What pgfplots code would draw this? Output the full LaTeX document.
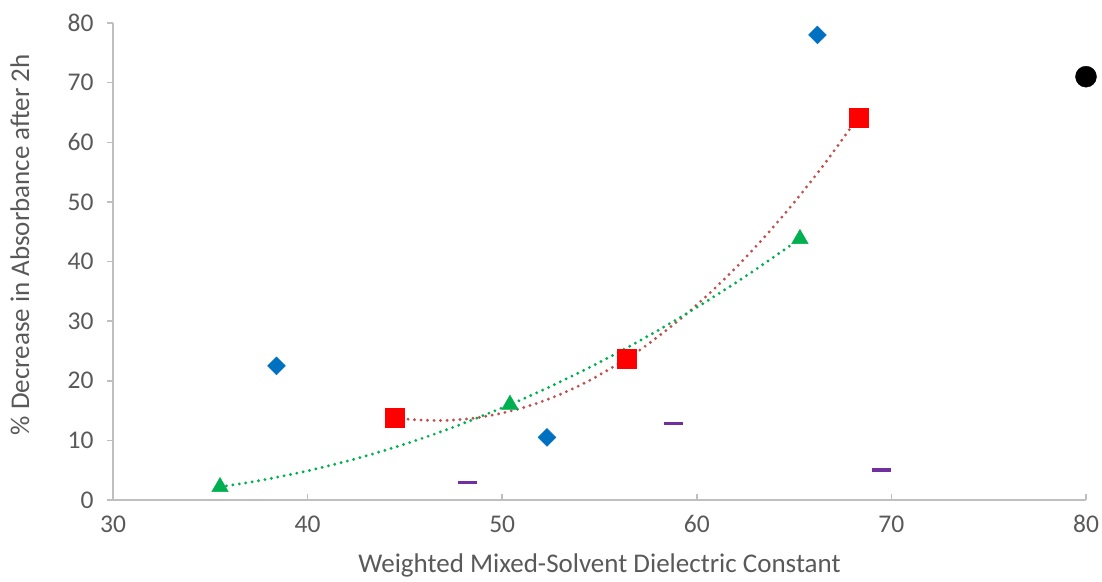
\documentclass[border=0pt]{standalone}
\usepackage{pgfplots}
\pgfplotsset{compat=1.18}
\usepackage{fontspec}
\setmainfont{Carlito}
\definecolor{axgray}{HTML}{BFBFBF}
\definecolor{txtgray}{HTML}{595959}
\definecolor{cblue}{HTML}{0070C0}
\definecolor{cred}{HTML}{FF0000}
\definecolor{cgreen}{HTML}{00B050}
\definecolor{cpurple}{HTML}{7030A0}
\definecolor{tred}{HTML}{C0504D}
\begin{document}
\begin{tikzpicture}
\path[use as bounding box] (0,0) rectangle (1102pt,581pt);
\begin{axis}[
  at={(113pt,81pt)}, anchor=south west,
  scale only axis, width=973pt, height=477pt,
  xmin=30, xmax=80, ymin=0, ymax=80,
  xtick={30,40,...,80}, ytick={0,10,...,80},
  axis x line=bottom, axis y line=left,
  axis line style={-, axgray, line width=1.5pt},
  x tick style={axgray, line width=1.5pt},
  y tick style={axgray, line width=1.5pt},
  xtick align=inside, ytick align=outside,
  major tick length=6pt,
  /pgf/number format/assume math mode=true,
  tick label style={font=\fontsize{25.5}{30}\selectfont, text=txtgray},
  xticklabel style={yshift=-12pt},
  yticklabel style={xshift=-10pt},
  xlabel={Weighted Mixed-Solvent Dielectric Constant},
  ylabel={\% Decrease in Absorbance after 2h},
  label style={font=\fontsize{27}{32}\selectfont, text=txtgray},
  xlabel style={at={(axis description cs:0.5,-0.138)}, anchor=center},
  ylabel style={at={(axis description cs:-0.0956,0.535)}, anchor=center},
  clip=false,
]
\addplot[only marks, mark=square*, mark size=6.3pt, mark options={rotate=45}, color=cblue] coordinates {
(38.4,22.5) (52.3,10.5) (66.2,78.0)};
\addplot[only marks, mark=square*, mark size=9.5pt, color=cred] coordinates {
(44.5,13.8) (56.4,23.7) (68.3,64.2)};
\addplot[only marks, mark=triangle*, mark size=9.5pt, color=cgreen] coordinates {
(35.5,2.2) (50.4,16.0) (65.3,43.8)};
\addplot[only marks, mark=-, mark size=9.5pt, mark options={line width=3.5pt}, color=cpurple] coordinates {
(48.2,2.9) (58.8,12.8) (69.5,5.0)};
\addplot[only marks, mark=*, mark size=10.5pt, color=black] coordinates {
(80.0,71.0)};
% trendlines (quadratic through the plotted points)
\addplot[smooth, tred, line width=3.2pt, line cap=round, dash pattern=on 0pt off 6.5pt] coordinates {
(44.5,13.8) (45.5,13.46) (47,13.34) (48.5,13.71) (50,14.58) (51.5,15.91) (53,17.75) (54.5,20.07) (56.4,23.7) (57.5,26.16) (59,29.94) (60.5,34.2) (62,38.95) (63.5,44.19) (65,49.9) (66.5,56.11) (68.3,64.2)};
\addplot[smooth, cgreen, line width=3.2pt, line cap=round, dash pattern=on 0pt off 6.5pt] coordinates {
(35.5,2.2) (37.5,3.24) (40,4.89) (42.5,6.94) (45,9.38) (47.5,12.22) (50.4,16.0) (52.5,19.07) (55,23.09) (57.5,27.5) (60,32.31) (62.5,37.51) (65.3,43.8)};
\end{axis}
\end{tikzpicture}
\end{document}
